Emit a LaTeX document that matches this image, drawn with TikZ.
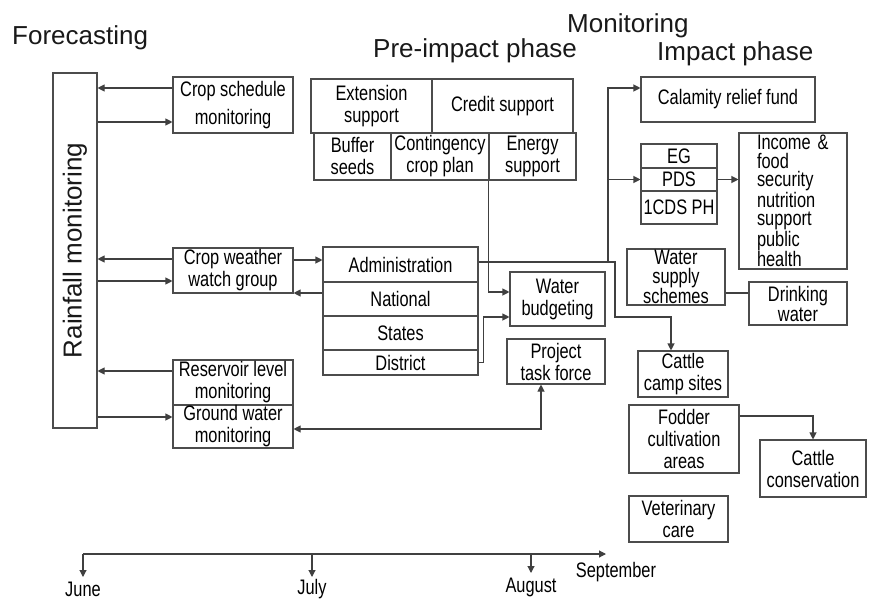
\documentclass[tikz,border=0pt]{standalone}
\usepackage{fontspec}
\setmainfont{Liberation Sans}
\newfontfamily\narrow[FakeStretch=0.78]{Liberation Sans}
\usetikzlibrary{arrows.meta}
\begin{document}
\begin{tikzpicture}[x=1pt,y=-1pt,
  bx/.style={draw=black!70, line width=1.1pt, inner sep=0pt, align=center,
    font=\narrow\fontsize{21}{22}\selectfont, text=black},
  tight/.style={font=\narrow\fontsize{21}{18.5}\selectfont},
  ttl/.style={font=\fontsize{26}{30}\selectfont, inner sep=0pt, anchor=base west, text=black!90},
  lab/.style={font=\narrow\fontsize{21}{22}\selectfont, inner sep=0pt, anchor=base, text=black},
  ln/.style={draw=black!75, line width=1.1pt},
  arr/.style={ln, -{Triangle[length=7pt,width=7pt]}},
  darr/.style={ln, {Triangle[length=7pt,width=7pt]}-{Triangle[length=7pt,width=7pt]}}
]
\useasboundingbox[fill=white] (0,0) rectangle (872,599);

% titles
\node[ttl] (tforecast) at (12,45) {Forecasting};
\node[ttl] (tpre) at (373,58) {Pre-impact phase};
\node[ttl] (tmon) at (567,33) {Monitoring};
\node[ttl] (timp) at (657,61) {Impact phase};

% forecasting column
\node[bx, minimum width=44pt, minimum height=355pt] (rain) at (75,250.5) {};
\node[font=\fontsize{26}{30}\selectfont, rotate=90, inner sep=0pt, text=black!90] (raintxt) at (rain.center) {Rainfall monitoring};

\node[bx, minimum width=120pt, minimum height=56pt] (cropsch) at (233,105) {Crop schedule\\[6pt]monitoring};
\node[bx, minimum width=120pt, minimum height=45pt] (cropwx) at (233,270.5) {Crop weather\\watch group};
\node[bx, minimum width=120pt, minimum height=45pt] (resv) at (233,382.5) {Reservoir level\\monitoring};
\node[bx, minimum width=120pt, minimum height=43pt] (ground) at (233,426.5) {Ground water\\monitoring};

% pre-impact
\node[bx, minimum width=121pt, minimum height=54pt] (ext) at (371.5,106) {Extension\\support};
\node[bx, minimum width=141pt, minimum height=54pt] (credit) at (502.5,106) {Credit support};
\node[bx, minimum width=77pt, minimum height=47pt] (buffer) at (352.5,156.5) {Buffer\\seeds};
\node[bx, minimum width=98pt, minimum height=47pt] (conting) at (440,156.5) {Contingency\\crop plan};
\node[bx, minimum width=87pt, minimum height=47pt] (energy) at (532.5,156.5) {Energy\\support};

\node[bx, minimum width=155pt, minimum height=35pt] (admin) at (400.5,264.5) {Administration};
\node[bx, minimum width=155pt, minimum height=34pt] (national) at (400.5,299) {National};
\node[bx, minimum width=155pt, minimum height=34pt] (states) at (400.5,333) {States};
\node[bx, minimum width=155pt, minimum height=25pt] (district) at (400.5,362.5) {District};

\node[bx, minimum width=95pt, minimum height=54pt] (waterbud) at (557.5,299) {Water\\budgeting};
\node[bx, minimum width=98pt, minimum height=45pt] (project) at (556,361.5) {Project\\task force};

% impact phase
\node[bx, minimum width=174pt, minimum height=45pt] (calamity) at (728,99.5) {Calamity relief fund};
\node[bx, minimum width=76pt, minimum height=24pt] (eg) at (679,156) {EG};
\node[bx, minimum width=76pt, minimum height=23pt] (pds) at (679,179.5) {PDS};
\node[bx, minimum width=76pt, minimum height=33pt] (icds) at (679,207.5) {1CDS PH};
\node[bx, tight, text width=72pt, align=left, inner xsep=18pt, minimum height=136pt] (income) at (793,201)
  {Income \&\\food\\security\\nutrition\\support\\public\\health};
\node[bx, tight, minimum width=98pt, minimum height=56pt] (wss) at (676,277) {Water\\supply\\schemes};
\node[bx, minimum width=98pt, minimum height=43pt] (drink) at (798,303.5) {Drinking\\[-2pt]water};
\node[bx, minimum width=90pt, minimum height=46pt] (camp) at (683,374) {Cattle\\camp sites};
\node[bx, minimum width=110pt, minimum height=68pt] (fodder) at (684,439) {Fodder\\cultivation\\areas};
\node[bx, minimum width=106pt, minimum height=57pt] (cons) at (813,468.5) {Cattle\\conservation};
\node[bx, minimum width=99pt, minimum height=46pt] (vet) at (678.5,519) {Veterinary\\care};

% connectors: rainfall column
\coordinate (a1) at ([yshift=17pt]cropsch.west);
\coordinate (b1) at ([yshift=-17pt]cropsch.west);
\coordinate (c1) at ([yshift=11.5pt]cropwx.west);
\coordinate (d1) at ([yshift=-10.5pt]cropwx.west);
\coordinate (e1) at ([yshift=11.5pt]resv.west);
\coordinate (f1) at ([yshift=9.5pt]ground.west);
\draw[arr] (a1) -- (a1 -| rain.east);
\draw[arr] (b1 -| rain.east) -- (b1);
\draw[arr] (c1) -- (c1 -| rain.east);
\draw[arr] (d1 -| rain.east) -- (d1);
\draw[arr] (e1) -- (e1 -| rain.east);
\draw[arr] (f1 -| rain.east) -- (f1);

% crop weather <-> administration
\coordinate (g1) at ([yshift=10.5pt]cropwx.east);
\draw[arr] (g1) -- (g1 -| admin.west);
\coordinate (h1) at ([yshift=6pt]national.west);
\draw[arr] (h1) -- (h1 -| cropwx.east);

% to water budgeting
\coordinate (i1) at ([yshift=7pt]waterbud.west);
\draw[arr] (energy.south west) |- (i1);
\coordinate (j1) at ([yshift=-18pt]waterbud.west);
\coordinate (j0) at ([xshift=5pt]district.east);
\draw[arr] (district.east) -- (j0) |- (j1);

% administration to impact phase
\coordinate (k1) at ([yshift=2.5pt]admin.east);
\coordinate (k2) at (615,262);
\coordinate (k3) at (671,317);
\draw[arr] (k1) -- (k2) |- (k3) -- (k3 |- camp.north);
\coordinate (l0) at (608,262);
\coordinate (l1) at ([yshift=11.5pt]calamity.west);
\draw[arr] (l0) |- (l1);
\draw[arr] (l0 |- pds.west) -- (pds.west);
\draw[arr] (pds.east) -- (pds.east -| income.west);

% water supply - drinking water
\coordinate (n1) at ([yshift=-16pt]wss.east);
\draw[ln] (n1) -- (n1 -| drink.west);

% fodder -> cattle conservation
\coordinate (o1) at ([yshift=23pt]fodder.east);
\draw[arr] (o1) -| (cons.north);

% ground water <-> project task force
\coordinate (p1) at ([yshift=-2.5pt]ground.east);
\coordinate (p2) at ([xshift=-15pt]project.south);
\draw[darr] (p1) -| (p2);

% timeline
\coordinate (t0) at (83,554);
\coordinate (tend) at (606,554);
\coordinate (tjul) at (312,554);
\coordinate (taug) at (531,554);
\coordinate (ejun) at (83,577);
\coordinate (ejul) at (312,577);
\coordinate (eaug) at (531,573);
\draw[arr] (t0) -- (tend);
\draw[arr] (t0) -- (ejun);
\draw[arr] (tjul) -- (ejul);
\draw[arr] (taug) -- (eaug);
\node[lab] (june) at (83,596) {June};
\node[lab] (july) at (312,594) {July};
\node[lab] (aug) at (531,592) {August};
\node[lab] (sep) at (616,577) {September};
\end{tikzpicture}
\end{document}
